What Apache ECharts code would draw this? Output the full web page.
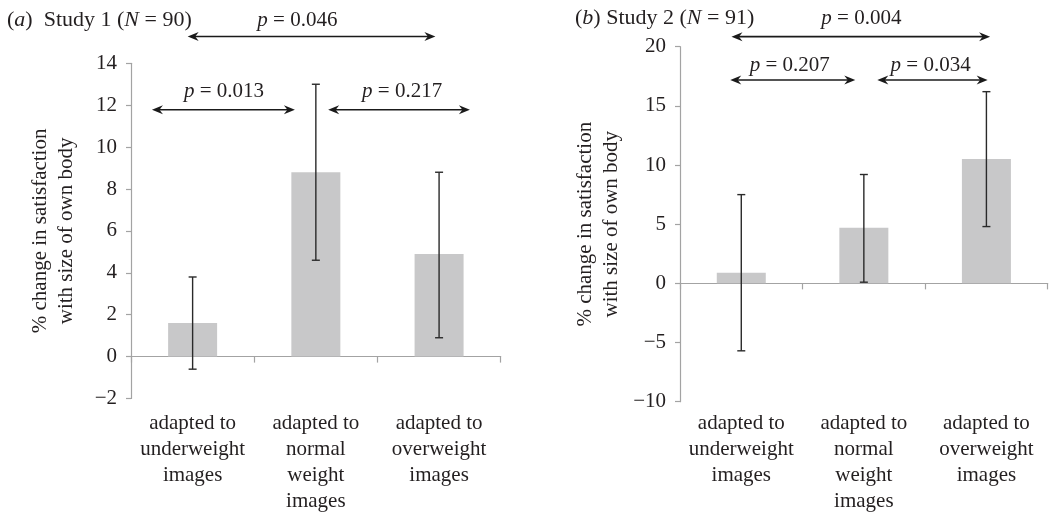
<!DOCTYPE html>
<html>
<head>
<meta charset="utf-8">
<script src="https://cdn.jsdelivr.net/npm/echarts@6/dist/echarts.min.js"></script>
<style>
html,body{margin:0;padding:0;background:#fff;}
#chart{width:1050px;height:512px;}
</style>
</head>
<body>
<div id="chart"></div>
<script>
// ---- data ----
const categories = ['adapted to\nunderweight\nimages', 'adapted to\nnormal\nweight\nimages', 'adapted to\noverweight\nimages'];

const study1Means = [1.6, 8.8, 4.9];
const study1Lower = [-0.6, 4.6, 0.9];
const study1Upper = [3.8, 13.0, 8.8];

const study2Means = [0.9, 4.7, 10.5];
const study2Lower = [-5.7, 0.1, 4.8];
const study2Upper = [7.5, 9.2, 16.2];

const study1Axis = { min: -2, max: 14, interval: 2 };
const study2Axis = { min: -10, max: 20, interval: 5 };

// comparison brackets: p-value, span [from, to] in category units, height (axis value)
const study1PValues = ['0.046', '0.013', '0.217'];
const study1Spans = [[-0.04, 1.97, 15.28], [-0.33, 0.83, 11.78], [1.10, 2.25, 11.78]];
const study1LabelPos = [[0.85, 16.05], [0.255, 12.66], [1.70, 12.66]];

const study2PValues = ['0.004', '0.207', '0.034'];
const study2Spans = [[-0.08, 2.03, 20.85], [-0.09, 0.93, 17.19], [1.11, 2.01, 17.19]];
const study2LabelPos = [[0.98, 22.4], [0.395, 18.45], [1.545, 18.45]];

// ---- styling ----
const FONT = '"Liberation Serif", "DejaVu Serif", serif';
const TXT = '#231f20';
const AXIS = '#a3a3a3';
const BAR = '#c8c8c9';
const ERR = '#2a2a2a';
const FS = 21;

function richFor(fs) {
  return { i: { fontStyle: 'italic', fontFamily: FONT, fontSize: fs, color: TXT }, n: { fontFamily: FONT, fontSize: fs, color: TXT } };
}
const richI = richFor(FS);
const richT = richFor(22);

function minusFmt(v) { return String(v).replace('-', '\u2212'); }

function errorRender(params, api) {
  const x = api.value(0);
  const lo = api.coord([x, api.value(1)]);
  const hi = api.coord([x, api.value(2)]);
  const c = 4;
  const st = { stroke: ERR, lineWidth: 1.4 };
  return {
    type: 'group',
    children: [
      { type: 'line', shape: { x1: lo[0], y1: lo[1], x2: hi[0], y2: hi[1] }, style: st },
      { type: 'line', shape: { x1: lo[0] - c, y1: lo[1], x2: lo[0] + c, y2: lo[1] }, style: st },
      { type: 'line', shape: { x1: hi[0] - c, y1: hi[1], x2: hi[0] + c, y2: hi[1] }, style: st }
    ]
  };
}

function makeArrowRender(pvals) {
  return function (params, api) {
    const a = api.coord([api.value(0), api.value(2)]);
    const b = api.coord([api.value(1), api.value(2)]);
    const t = api.coord([api.value(3), api.value(4)]);
    const y = a[1], x1 = a[0], x2 = b[0];
    const L = 11, H = 4.5, N = 3.5;
    const col = '#1a1a1a';
    return {
      type: 'group',
      children: [
        { type: 'line', shape: { x1: x1 + 4, y1: y, x2: x2 - 4, y2: y }, style: { stroke: col, lineWidth: 1.6 } },
        { type: 'polygon', shape: { points: [[x1, y], [x1 + L, y - H], [x1 + L - N, y], [x1 + L, y + H]] }, style: { fill: col } },
        { type: 'polygon', shape: { points: [[x2, y], [x2 - L, y - H], [x2 - L + N, y], [x2 - L, y + H]] }, style: { fill: col } },
        { type: 'text', x: t[0], y: t[1], style: {
            text: '{i|p}{n| = ' + pvals[params.dataIndex] + '}',
            rich: richI, align: 'center', verticalAlign: 'middle',
            fontFamily: FONT, fontSize: FS, fill: TXT } }
      ]
    };
  };
}

function zip3(a, b, c) { return a.map((v, i) => [v, b[i], c[i]]); }
function spanData(spans, pos) { return spans.map((s, i) => [s[0], s[1], s[2], pos[i][0], pos[i][1]]); }

const yName = '% change in satisfaction\nwith size of own body';

function yAxisCfg(gridIndex, ax, nameGap) {
  return {
    gridIndex, type: 'value', min: ax.min, max: ax.max, interval: ax.interval,
    name: yName, nameLocation: 'middle', nameGap,
    nameTextStyle: { fontFamily: FONT, fontSize: FS, color: TXT, lineHeight: 26 },
    axisLine: { show: true, onZero: false, lineStyle: { color: AXIS, width: 1.2 } },
    axisTick: { show: true, length: 5, lineStyle: { color: AXIS, width: 1.2 } },
    axisLabel: { fontFamily: FONT, fontSize: FS, color: TXT, margin: 14, formatter: minusFmt },
    splitLine: { show: false }
  };
}

function xCatCfg(gridIndex, margin) {
  return {
    gridIndex, type: 'category', data: categories,
    axisLine: { show: true, onZero: true, lineStyle: { color: AXIS, width: 1.2 } },
    axisTick: { show: true, length: 6, lineStyle: { color: AXIS, width: 1.2 } },
    axisLabel: { fontFamily: FONT, fontSize: FS, color: TXT, lineHeight: 26, margin, interval: 0 },
    splitLine: { show: false }
  };
}
function xValCfg(gridIndex) {
  return { gridIndex, type: 'value', min: -0.5, max: 2.5, show: false, position: 'top',
    axisLine: { onZero: false } };
}

const option = {
  backgroundColor: '#fff',
  animation: false,
  title: [
    { text: '{n|(}{i|a}{n|)  Study 1 (}{i|N}{n| = 90)}', left: 7, top: 9, padding: 0,
      textStyle: { fontFamily: FONT, fontSize: 22, color: TXT, fontWeight: 'normal', rich: richT } },
    { text: '{n|(}{i|b}{n|) Study 2 (}{i|N}{n| = 91)}', left: 575, top: 7, padding: 0,
      textStyle: { fontFamily: FONT, fontSize: 22, color: TXT, fontWeight: 'normal', rich: richT } }
  ],
  grid: [
    { left: 131, top: 63.3, width: 369.7, height: 335.2, containLabel: false, outerBoundsMode: 'none' },
    { left: 680, top: 46.7, width: 367.7, height: 355, containLabel: false, outerBoundsMode: 'none' }
  ],
  xAxis: [xCatCfg(0, 12), xValCfg(0), xCatCfg(1, 8.5), xValCfg(1)],
  yAxis: [yAxisCfg(0, study1Axis, 52), yAxisCfg(1, study2Axis, 56)],
  series: [
    { type: 'bar', xAxisIndex: 0, yAxisIndex: 0, data: study1Means, barWidth: 49, itemStyle: { color: BAR }, z: 2 },
    { type: 'custom', xAxisIndex: 0, yAxisIndex: 0, data: zip3([0, 1, 2], study1Lower, study1Upper),
      encode: { x: 0, y: [1, 2] }, renderItem: errorRender, z: 3 },
    { type: 'custom', xAxisIndex: 1, yAxisIndex: 0, data: spanData(study1Spans, study1LabelPos),
      encode: { x: [0, 1, 3], y: [2, 4] }, renderItem: makeArrowRender(study1PValues), clip: false, z: 4 },

    { type: 'bar', xAxisIndex: 2, yAxisIndex: 1, data: study2Means, barWidth: 49, itemStyle: { color: BAR }, z: 2 },
    { type: 'custom', xAxisIndex: 2, yAxisIndex: 1, data: zip3([0, 1, 2], study2Lower, study2Upper),
      encode: { x: 0, y: [1, 2] }, renderItem: errorRender, z: 3 },
    { type: 'custom', xAxisIndex: 3, yAxisIndex: 1, data: spanData(study2Spans, study2LabelPos),
      encode: { x: [0, 1, 3], y: [2, 4] }, renderItem: makeArrowRender(study2PValues), clip: false, z: 4 }
  ]
};

const chart = echarts.init(document.getElementById('chart'), null, { renderer: 'canvas' });
chart.setOption(option);
</script>
</body>
</html>
